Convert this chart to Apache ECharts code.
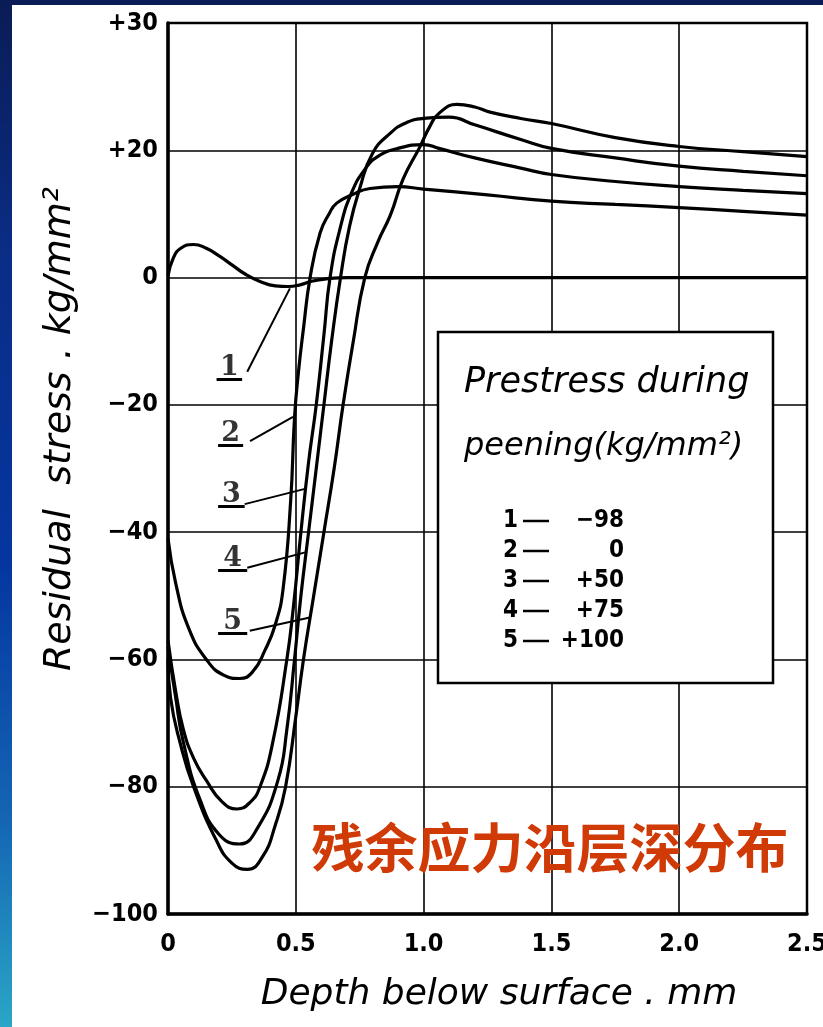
<!DOCTYPE html>
<html>
<head>
<meta charset="utf-8">
<script src="https://cdn.jsdelivr.net/npm/echarts@6/dist/echarts.min.js"></script>
<style>
  html, body { margin: 0; padding: 0; }
  body {
    width: 823px; height: 1027px; overflow: hidden; position: relative;
    background: linear-gradient(to bottom, #0a1c55 0%, #0a2d86 25%, #0536a0 55%, #1466b4 80%, #2aa6c6 100%);
  }
  #chart { position: absolute; left: 12px; top: 5px; width: 811px; height: 1022px; background: #ffffff; }
</style>
</head>
<body>
<div id="chart"></div>
<script>
// Axis setup and tick text
const X_MIN = 0, X_MAX = 2.5, X_STEP = 0.5;
const Y_MIN = -100, Y_MAX = 40, Y_STEP = 20;
const xTickText = ['0', '0.5', '1.0', '1.5', '2.0', '2.5'];
const yTickText = ['\u2212100', '\u221280', '\u221260', '\u221240', '\u221220', '0', '+20', '+30'];

// Residual stress (kg/mm²) against depth below surface (mm), one curve per prestress level
const depth1 = [0, 0.02, 0.05, 0.1, 0.15, 0.2, 0.25, 0.3, 0.36, 0.42, 0.47, 0.52, 0.56, 0.62, 0.7, 0.85, 1.0, 1.5, 2.0, 2.5];
const stress1 = [0.3, 3, 4.6, 5.2, 4.6, 3.4, 2.0, 0.6, -0.6, -1.3, -1.4, -1.1, -0.6, -0.2, 0, 0, 0, 0, 0, 0];

const depth2 = [0, 0.03, 0.08, 0.15, 0.22, 0.28, 0.33, 0.38, 0.42, 0.45, 0.48, 0.495, 0.51, 0.53, 0.556, 0.595, 0.63, 0.66, 0.72, 0.79, 0.9, 1.0, 1.25, 1.5, 1.75, 2.0, 2.25, 2.5];
const stress2 = [-41, -48, -55, -60, -62.5, -63, -62, -58.5, -54.5, -49, -35, -22, -15, -8, 0, 7, 10, 11.7, 13, 14, 14.3, 13.9, 13, 12, 11.5, 11, 10.4, 9.8];

const depth3 = [0, 0.03, 0.06, 0.1, 0.15, 0.21, 0.27, 0.32, 0.36, 0.41, 0.465, 0.49, 0.52, 0.55, 0.58, 0.61, 0.634, 0.675, 0.72, 0.77, 0.82, 0.9, 1.0, 1.06, 1.2, 1.38, 1.5, 1.75, 2.0, 2.25, 2.5];
const stress3 = [-57, -65, -71, -75.5, -79, -82.3, -83.5, -82.5, -80, -73, -60, -52, -40, -29, -20, -9, 0, 8, 13.5, 17, 19, 20.3, 20.9, 20.3, 18.8, 17.2, 16.2, 15.1, 14.3, 13.7, 13.2];

const depth4 = [0, 0.03, 0.06, 0.125, 0.2, 0.28, 0.35, 0.43, 0.465, 0.495, 0.52, 0.55, 0.58, 0.61, 0.64, 0.675, 0.71, 0.75, 0.8, 0.87, 0.93, 1.0, 1.1, 1.2, 1.38, 1.5, 1.75, 2.0, 2.25, 2.5];
const stress4 = [-58, -66, -73, -82, -87.5, -89, -86.5, -79, -71, -60, -50, -40, -30, -20, -10, 0, 8, 14, 19.5, 22.7, 24.3, 25, 25.2, 24, 21.7, 20.3, 18.8, 17.5, 16.7, 16];

const depth5 = [0, 0.01, 0.05, 0.1, 0.19, 0.25, 0.31, 0.37, 0.42, 0.46, 0.5, 0.53, 0.57, 0.61, 0.65, 0.685, 0.725, 0.77, 0.82, 0.87, 0.92, 0.985, 1.025, 1.06, 1.13, 1.2, 1.26, 1.38, 1.5, 1.75, 2.0, 2.25, 2.5];
const stress5 = [-60, -66, -73.5, -80, -88.5, -92, -93, -91, -86, -80, -69, -60, -50, -40, -30, -20, -10, 0, 5.5, 9.8, 15.5, 20.5, 23.8, 25.8, 27.2, 26.8, 26, 25, 24.2, 22, 20.6, 19.8, 19];

// Legend entries: curve number and prestress during peening
const curveIds = ['1', '2', '3', '4', '5'];
const prestressText = ['\u221298', '0', '+50', '+75', '+100'];

// Curve tags: underline [x from, x to, y], leader [x, y] -> [x, y] (data units)
const tagUnderline = [
  [0.19, 0.29, -16.0],
  [0.196, 0.294, -26.3],
  [0.196, 0.30, -35.9],
  [0.196, 0.31, -46.0],
  [0.196, 0.31, -55.9]
];
const tagLeader = [
  [[0.31, -14.8], [0.477, -1.7]],
  [[0.321, -25.7], [0.489, -21.9]],
  [[0.30, -35.6], [0.536, -33.2]],
  [[0.31, -45.6], [0.544, -43.1]],
  [[0.32, -55.5], [0.555, -53.4]]
];

const curves = [[depth1, stress1], [depth2, stress2], [depth3, stress3], [depth4, stress4], [depth5, stress5]];

const chart = echarts.init(document.getElementById('chart'), null, { renderer: 'canvas' });

const narrow = '"Liberation Sans Narrow", "DejaVu Sans Condensed", sans-serif';
const tickFont = { fontFamily: narrow, fontWeight: 'bold', fontSize: 25, color: '#000' };
const handFont = '"DejaVu Sans", sans-serif';

const series = curves.map(([xs, ys], i) => ({
  type: 'line',
  name: curveIds[i],
  data: xs.map((x, k) => [x, ys[k]]),
  showSymbol: false,
  smooth: 0.5,
  lineStyle: { color: '#000', width: 3.2 },
  z: 3,
  silent: true
}));

// underlines and leader lines for the curve tags
series.push({
  type: 'lines',
  coordinateSystem: 'cartesian2d',
  data: tagUnderline.map(u => ({ coords: [[u[0], u[2]], [u[1], u[2]]] })),
  lineStyle: { color: '#000', width: 3, opacity: 1 },
  z: 4,
  silent: true
});
series.push({
  type: 'lines',
  coordinateSystem: 'cartesian2d',
  data: tagLeader.map(l => ({ coords: l })),
  lineStyle: { color: '#000', width: 2, opacity: 1 },
  z: 4,
  silent: true
});

// tag numbers sitting on their underlines
series.push({
  type: 'scatter',
  data: tagUnderline.map((u, i) => ({ value: [(u[0] + u[1]) / 2, u[2]], name: curveIds[i] })),
  symbolSize: 1,
  itemStyle: { color: 'rgba(0,0,0,0)' },
  label: {
    show: true, position: 'top', distance: -3,
    formatter: p => p.name,
    fontFamily: '"DejaVu Serif", serif', fontWeight: 'bold', fontSize: 27, color: '#000'
  },
  z: 5,
  silent: true
});

const graphic = [
  { type: 'rect', x: 426, y: 327, shape: { width: 335, height: 351 },
    style: { fill: '#fff', stroke: '#000', lineWidth: 2.5 }, z: 100 },
  { type: 'text', x: 452, y: 378, z: 101,
    style: { text: 'Prestress during', font: 'italic 35px ' + handFont, fill: '#000', align: 'left', verticalAlign: 'middle' } },
  { type: 'text', x: 452, y: 442, z: 101,
    style: { text: 'peening(kg/mm\u00b2)', font: 'italic 32px ' + handFont, fill: '#000', align: 'left', verticalAlign: 'middle' } },
  // Y axis title
  { type: 'text', x: 48, y: 424, rotation: Math.PI / 2, z: 101,
    style: { text: 'Residual  stress . kg/mm\u00b2', font: 'italic 38px ' + handFont, fill: '#000', align: 'center', verticalAlign: 'middle' } },
  // X axis title
  { type: 'text', x: 487, y: 990, z: 101,
    style: { text: 'Depth below surface . mm', font: 'italic 36px ' + handFont, fill: '#000', align: 'center', verticalAlign: 'middle' } },
  // caption
  { type: 'text', x: 538, y: 843, z: 101,
    style: { text: '残余应力沿层深分布', font: 'bold 53px "Noto Sans CJK SC"', fill: '#cf3a06', align: 'center', verticalAlign: 'middle' } }
];

const rowY0 = 516, rowGap = 30;
curveIds.forEach((id, i) => {
  const y = rowY0 + i * rowGap;
  const f = 'bold 24px ' + narrow;
  graphic.push({ type: 'text', x: 506, y, z: 101, style: { text: id, font: f, fill: '#000', align: 'right', verticalAlign: 'middle' } });
  graphic.push({ type: 'line', z: 101, shape: { x1: 511, y1: y, x2: 537, y2: y }, style: { stroke: '#000', lineWidth: 2.5 } });
  graphic.push({ type: 'text', x: 612, y, z: 101, style: { text: prestressText[i], font: f, fill: '#000', align: 'right', verticalAlign: 'middle' } });
});

chart.setOption({
  animation: false,
  backgroundColor: 'transparent',
  grid: { left: 156, right: 16, top: 18, bottom: 113, outerBoundsMode: 'none', containLabel: false,
          show: true, borderColor: '#000', borderWidth: 2.5, backgroundColor: 'transparent' },
  xAxis: {
    type: 'value', min: X_MIN, max: X_MAX, interval: X_STEP,
    axisLine: { show: true, onZero: false, lineStyle: { color: '#000', width: 3.5 } },
    axisTick: { show: false },
    splitLine: { show: true, lineStyle: { color: '#000', width: 1.6 } },
    axisLabel: Object.assign({ margin: 18, formatter: v => xTickText[Math.round((v - X_MIN) / X_STEP)] }, tickFont)
  },
  yAxis: {
    type: 'value', min: Y_MIN, max: Y_MAX, interval: Y_STEP,
    axisLine: { show: true, onZero: false, lineStyle: { color: '#000', width: 3.5 } },
    axisTick: { show: false },
    splitLine: { show: true, lineStyle: { color: '#000', width: 1.6 } },
    axisLabel: Object.assign({ margin: 10, formatter: v => yTickText[Math.round((v - Y_MIN) / Y_STEP)] }, tickFont)
  },
  graphic,
  series
});
</script>
</body>
</html>
